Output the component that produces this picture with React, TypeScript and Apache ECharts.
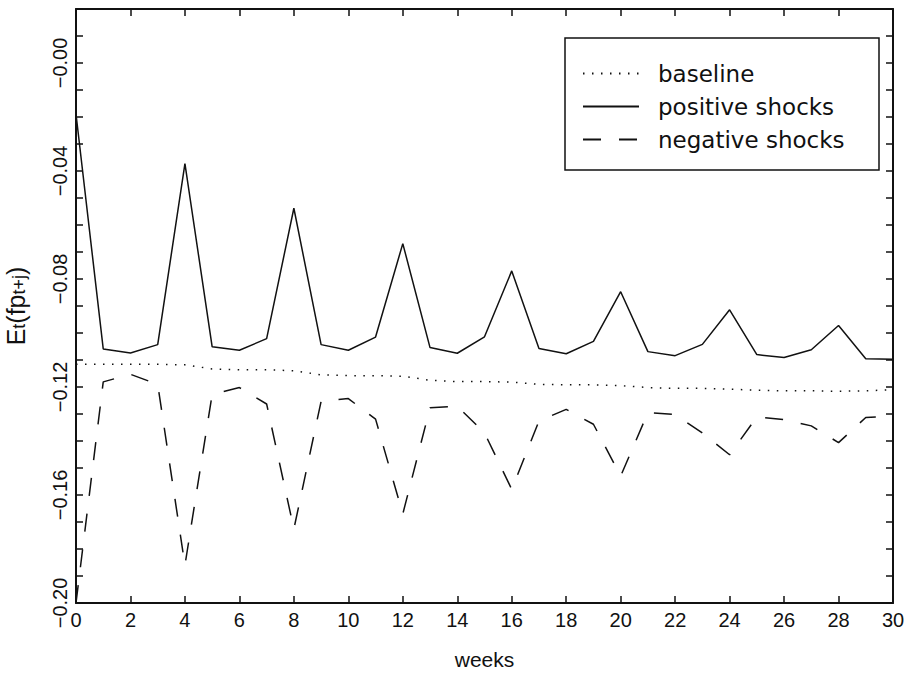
import React, { useEffect, useRef } from "react";
import * as echarts from "echarts";

const weeks = [0,1,2,3,4,5,6,7,8,9,10,11,12,13,14,15,16,17,18,19,20,21,22,23,24,25,26,27,28,29,30];

const baseline = [
  -0.1116, -0.1116, -0.1116, -0.1116, -0.1118, -0.1133, -0.1136, -0.1136, -0.1140, -0.1155,
  -0.1158, -0.1158, -0.1160, -0.1175, -0.1180, -0.1180, -0.1182, -0.1190, -0.1192, -0.1192,
  -0.1195, -0.1202, -0.1205, -0.1205, -0.1208, -0.1212, -0.1214, -0.1214, -0.1216, -0.1214,
  -0.1210,
];

const positiveShocks = [
  -0.0189, -0.1059, -0.1074, -0.1043, -0.0373, -0.1051, -0.1064, -0.1021, -0.0538, -0.1043,
  -0.1064, -0.1015, -0.0669, -0.1054, -0.1075, -0.1014, -0.0770, -0.1057, -0.1077, -0.1031,
  -0.0847, -0.1069, -0.1084, -0.1042, -0.0914, -0.1080, -0.1091, -0.1062, -0.0972, -0.1095,
  -0.1097,
];

const negativeShocks = [
  -0.2000, -0.1181, -0.1153, -0.1190, -0.1860, -0.1227, -0.1202, -0.1263, -0.1726, -0.1253,
  -0.1243, -0.1319, -0.1670, -0.1277, -0.1271, -0.1370, -0.1579, -0.1326, -0.1283, -0.1338,
  -0.1530, -0.1295, -0.1302, -0.1370, -0.1451, -0.1311, -0.1321, -0.1344, -0.1406, -0.1313,
  -0.1307,
];

const seriesNames = ["baseline", "positive shocks", "negative shocks"];
const xAxisTitle = "weeks";
const yAxisTitle = "E{sub|t}(fp{sub|t+j})";

const X_MIN = 0;
const X_MAX = 30;
const X_STEP = 2;
const Y_MIN = -0.2;
const Y_MAX = 0.02;
const Y_STEP = 0.01;

const INK = "#111";
const TICK_FONT = "'Liberation Sans', Arial, sans-serif";
const LEGEND_FONT = "'DejaVu Sans', sans-serif";

function pairs(values: number[]) {
  return weeks.map((w, i) => [w, values[i]]);
}

function yLabel(v: number) {
  const k = Math.round(v * 100);
  if (k % 4 !== 0 || k > 0) return "";
  return "\u2212" + (Math.abs(k) / 100).toFixed(2);
}

export default function App() {
  const ref = useRef<HTMLDivElement>(null);

  useEffect(() => {
    if (!ref.current) return;
    const chart = echarts.init(ref.current, null, { renderer: "svg" });

    const axisLine = { show: true, onZero: false, lineStyle: { color: INK, width: 2 } };
    const tick = {
      show: true,
      inside: true,
      length: 7,
      lineStyle: { color: INK, width: 1.5 },
    };

    chart.setOption({
      animation: false,
      backgroundColor: "#fff",
      grid: {
        left: 76,
        right: 17,
        top: 9,
        bottom: 73,
        containLabel: false,
        outerBoundsMode: "none",
      },
      legend: {
        orient: "vertical",
        left: 582,
        top: 62,
        padding: 0,
        itemWidth: 56,
        itemHeight: 14,
        itemGap: 10,
        data: seriesNames,
        itemStyle: { opacity: 0, borderWidth: 0 },
        textStyle: {
          color: INK,
          fontSize: 23,
          fontFamily: LEGEND_FONT,
          padding: [0, 0, 0, 14],
        },
        selectedMode: false,
      },
      graphic: [
        {
          type: "rect",
          shape: { x: 565, y: 38, width: 314, height: 132 },
          style: { fill: "none", stroke: INK, lineWidth: 1.5 },
          silent: true,
        },
      ],
      xAxis: [
        {
          type: "value",
          position: "bottom",
          min: X_MIN,
          max: X_MAX,
          interval: X_STEP,
          axisLine,
          axisTick: tick,
          splitLine: { show: false },
          axisLabel: {
            color: INK,
            fontSize: 20,
            fontFamily: TICK_FONT,
            margin: 7,
          },
          name: xAxisTitle,
          nameLocation: "middle",
          nameGap: 46,
          nameTextStyle: { color: INK, fontSize: 21, fontFamily: TICK_FONT },
        },
        {
          type: "value",
          position: "top",
          min: X_MIN,
          max: X_MAX,
          interval: X_STEP,
          axisLine,
          axisTick: tick,
          splitLine: { show: false },
          axisLabel: { show: false },
        },
      ],
      yAxis: [
        {
          type: "value",
          position: "left",
          min: Y_MIN,
          max: Y_MAX,
          interval: Y_STEP,
          axisLine,
          axisTick: tick,
          splitLine: { show: false },
          axisLabel: {
            color: INK,
            fontSize: 20,
            fontFamily: TICK_FONT,
            rotate: 90,
            margin: 6,
            formatter: yLabel,
          },
          name: yAxisTitle,
          nameLocation: "middle",
          nameRotate: 90,
          nameGap: 48,
          nameTextStyle: {
            color: INK,
            fontSize: 25,
            fontFamily: TICK_FONT,
            rich: {
              sub: {
                fontSize: 18,
                fontFamily: TICK_FONT,
                color: INK,
                verticalAlign: "bottom",
                padding: [7, 0, 0, 0],
              },
            },
          },
        },
        {
          type: "value",
          position: "right",
          min: Y_MIN,
          max: Y_MAX,
          interval: Y_STEP,
          axisLine,
          axisTick: tick,
          splitLine: { show: false },
          axisLabel: { show: false },
        },
      ],
      series: [
        {
          name: seriesNames[0],
          type: "line",
          data: pairs(baseline),
          symbol: "none",
          lineStyle: { color: INK, width: 1.5, type: [1.5, 7.5] },
          itemStyle: { color: INK },
        },
        {
          name: seriesNames[1],
          type: "line",
          data: pairs(positiveShocks),
          symbol: "none",
          lineStyle: { color: INK, width: 1.5, type: "solid" },
          itemStyle: { color: INK },
        },
        {
          name: seriesNames[2],
          type: "line",
          data: pairs(negativeShocks),
          symbol: "none",
          lineStyle: { color: INK, width: 1.5, type: [18, 18] },
          itemStyle: { color: INK },
        },
      ],
    });

    return () => chart.dispose();
  }, []);

  return (
    <div
      ref={ref}
      style={{ position: "fixed", left: 0, top: 0, width: 910, height: 676, background: "#fff" }}
    />
  );
}
